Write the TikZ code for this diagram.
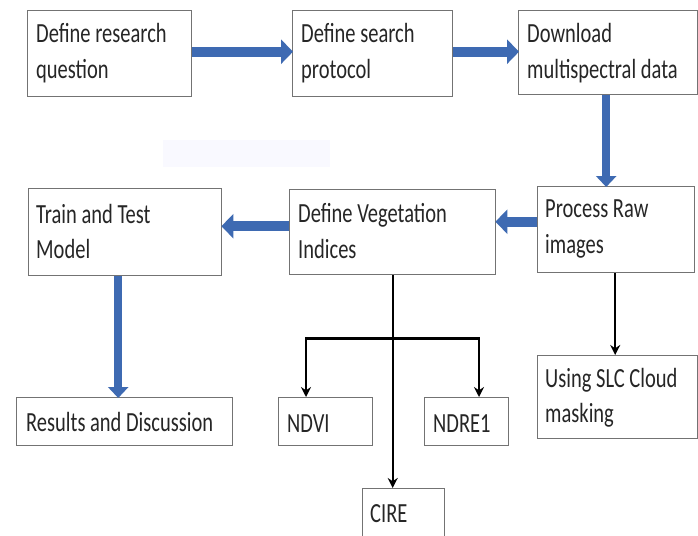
\documentclass[tikz,border=0pt]{standalone}
\usepackage{fontspec}
\usepackage{graphicx}
\setmainfont{Carlito}
\usetikzlibrary{arrows.meta,calc}
\definecolor{flowblue}{RGB}{62,106,178}
\definecolor{boxgray}{RGB}{115,115,115}
\newcommand\vst[1]{\scalebox{1}[1.35]{#1}}
\begin{document}
\begin{tikzpicture}[x=1pt,y=-1pt,
  box/.style={draw=boxgray, line width=1.4pt, fill=white, anchor=north west, inner sep=0pt},
  txt/.style={anchor=base west, inner sep=0pt, font=\fontsize{20.5}{24}\selectfont, text=black!85},
  bigarrow/.style={draw=flowblue, line width=10pt, -{Triangle[length=12pt,width=24pt]}, shorten >=-1pt},
  medarrow/.style={draw=flowblue, line width=8pt, -{Triangle[length=11pt,width=20pt]}, shorten >=-1pt},
  blkarrow/.style={draw=black, line width=1.8pt, -{Stealth[length=10pt,width=10pt]}},
  blkbar/.style={draw=black, line width=3pt}]
\useasboundingbox (0,0) rectangle (698,535);
\fill[white] (0,0) rectangle (698,535);
\fill[blue!2.5] (163,140) rectangle (330,167);

% boxes
\node[box, minimum width=164pt, minimum height=86pt] (b1) at (27,10) {};
\node[box, minimum width=160pt, minimum height=86pt] (b2) at (292,10) {};
\node[box, minimum width=179pt, minimum height=84pt] (b3) at (518,10) {};
\node[box, minimum width=157pt, minimum height=86pt] (b4) at (537,186) {};
\node[box, minimum width=206pt, minimum height=85pt] (b5) at (289,189) {};
\node[box, minimum width=193pt, minimum height=87pt] (b6) at (28,188) {};
\node[box, minimum width=216pt, minimum height=48pt] (b7) at (16,397) {};
\node[box, minimum width=94pt, minimum height=48pt] (b8) at (278,397) {};
\node[box, minimum width=84pt, minimum height=48pt] (b9) at (424,397) {};
\node[box, minimum width=82pt, minimum height=60pt] (b10) at (362,488) {};
\node[box, minimum width=160pt, minimum height=83pt] (b11) at (537,355) {};

% texts
\node[txt] (t1a) at (36,42) {\vst{Define research}};
\node[txt] (t1b) at (36,78) {\vst{question}};
\node[txt] (t2a) at (301,42) {\vst{Define search}};
\node[txt] (t2b) at (301,78) {\vst{protocol}};
\node[txt] (t3a) at (527,42) {\vst{Download}};
\node[txt] (t3b) at (527,78) {\vst{multispectral data}};
\node[txt] (t4a) at (545,217) {\vst{Process Raw}};
\node[txt] (t4b) at (545,253) {\vst{images}};
\node[txt] (t5a) at (298,222) {\vst{Define Vegetation}};
\node[txt] (t5b) at (298,258) {\vst{Indices}};
\node[txt] (t6a) at (36,223) {\vst{Train and Test}};
\node[txt] (t6b) at (36,258) {\vst{Model}};
\node[txt] (t7) at (26,431) {\vst{Results and Discussion}};
\node[txt] (t8) at (287,432) {\vst{NDVI}};
\node[txt] (t9) at (433,432) {\vst{NDRE1}};
\node[txt] (t10) at (370,522) {\vst{CIRE}};
\node[txt] (t11a) at (545,387) {\vst{Using SLC Cloud}};
\node[txt] (t11b) at (545,422) {\vst{masking}};

% blue flow arrows
\draw[bigarrow] ([yshift=2pt]b1.east) -- ([yshift=2pt]b1.east -| b2.west);
\draw[bigarrow] ([yshift=2pt]b2.east) -- ([yshift=2pt]b2.east -| b3.west);
\draw[medarrow] ([xshift=-2pt]b3.south) -- ([xshift=-2pt]b3.south |- b4.north);
\draw[bigarrow] ([yshift=8pt]b4.west) -- ([yshift=8pt]b4.west -| b5.east);
\draw[bigarrow] ([yshift=6pt]b5.west) -- ([yshift=6pt]b5.west -| b6.east);
\draw[medarrow] ([xshift=-7pt]b6.south) -- ([xshift=-7pt]b6.south |- b7.north);

% black connectors
\coordinate (bl) at (306,338);
\coordinate (br) at (479,338);
\draw[blkbar] ([xshift=-1pt]bl) -- ([xshift=1pt]br);
\draw[blkarrow] (bl) -- (bl |- b8.north);
\draw[blkarrow] (br) -- (br |- b9.north);
\draw[blkarrow] (b5.south) -- (b5.south |- b10.north);
\draw[blkarrow] ([xshift=-1pt]b4.south) -- ([xshift=-1pt]b4.south |- b11.north);
\end{tikzpicture}
\end{document}
